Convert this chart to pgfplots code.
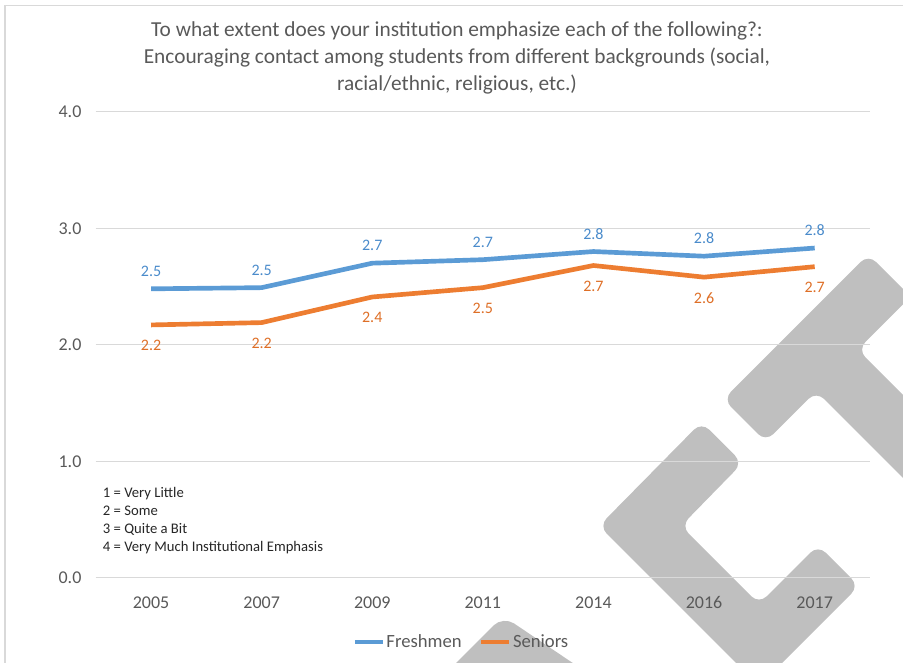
\documentclass[border=0pt]{standalone}
\usepackage{fontspec}
\setmainfont{Carlito}
\usepackage{pgfplots}
\usepackage{pgfplotstable}
\pgfplotsset{compat=1.18}

\definecolor{fresh}{HTML}{5B9BD5}
\definecolor{senior}{HTML}{ED7D31}
\definecolor{freshlbl}{HTML}{4A8BCB}
\definecolor{seniorlbl}{HTML}{DE6F27}
\definecolor{txt}{HTML}{595959}
\definecolor{gridc}{HTML}{D9D9D9}
\definecolor{wm}{HTML}{BFBFBF}

% mean scores, categories at 0..6
\pgfplotstableread{
x fresh senior
0 2.48 2.17
1 2.49 2.19
2 2.70 2.41
3 2.73 2.49
4 2.80 2.68
5 2.76 2.58
6 2.83 2.67
}\scores

\begin{document}
\begin{tikzpicture}
% pixel grid: 1px = 0.75pt, origin top left
\begin{scope}[x=0.75pt,y=-0.75pt]
  \useasboundingbox (0,0) rectangle (903,663);
  \begin{scope}
    \clip (0,0) rectangle (903,663);
    % watermark logo
    \fill[wm, rounded corners=8pt]
      (701.5,422) -- (599,526) -- (759,686) -- (859,586) -- (818,545)
      -- (759,604) -- (681,526) -- (742.5,463) -- cycle;
    \fill[wm, rounded corners=8pt]
      (723.3,399.3) -- (868.3,254.3) -- (910.7,296.7) -- (857.7,349.7)
      -- (1057.7,549.7) -- (1016.2,591.2) -- (816.2,391.2) -- (765.7,441.7) -- cycle;
    \fill[wm, rounded corners=10pt] (439,680) -- (503,616) -- (598,680) -- cycle;
  \end{scope}
  \draw[gridc, line width=1pt] (5,663) -- (5,5.5) -- (903,5.5);
  \node[txt, align=center, font=\fontsize{16}{20.2}\selectfont]
    at (457,57.5) {To what extent does your institution emphasize each of the following?:\\
    Encouraging contact among students from different backgrounds (social,\\
    racial/ethnic, religious, etc.)};
  \node[black!85, align=left, anchor=west, inner sep=0pt,
        font=\fontsize{11}{13.5}\selectfont] at (102.7,520.3)
    {1 = Very Little\\2 = Some\\3 = Quite a Bit\\4 = Very Much Institutional Emphasis};
\end{scope}

\begin{axis}[
  at={(71.8pt,-433.3pt)}, anchor=south west,
  scale only axis, width=580.7pt, height=349.5pt,
  xmin=-0.5, xmax=6.5, ymin=0, ymax=4,
  clip=false,
  axis line style={draw=none},
  major tick length=0pt,
  xtick={0,...,6},
  xticklabels={2005,2007,2009,2011,2014,2016,2017},
  ytick={0,1,2,3,4},
  /pgf/number format/assume math mode=true,
  yticklabel={\pgfmathprintnumber[fixed,fixed zerofill,precision=1]{\tick}},
  ymajorgrids,
  grid style={gridc, line width=1pt},
  tick label style={txt, font=\fontsize{13.5}{16}\selectfont},
  xticklabel style={anchor=center, yshift=-18.8pt},
  yticklabel style={anchor=center, xshift=-19.3pt},
  nodes near coords={\pgfmathprintnumber[fixed,fixed zerofill,precision=1]{\pgfplotspointmeta}},
  nodes near coords style={font=\fontsize{12}{14}\selectfont, anchor=center},
  legend style={at={(0.4718,-0.138)}, anchor=center, draw=none, fill=none,
    font=\fontsize{14}{16}\selectfont, text=txt, legend columns=2,
    /tikz/every even column/.append style={column sep=12pt},
    nodes={inner xsep=1pt}},
  legend image code/.code={\draw[#1, line width=3.5pt] (0pt,0pt) -- (21pt,0pt);},
]
\addplot[fresh, line width=3.5pt, mark=none,
  nodes near coords style={freshlbl, yshift=13.2pt}] table[x=x, y=fresh] {\scores};
\addplot[senior, line width=3.5pt, mark=none,
  nodes near coords style={seniorlbl, yshift=-15.5pt}] table[x=x, y=senior] {\scores};
\legend{Freshmen, Seniors}
\end{axis}
\end{tikzpicture}
\end{document}
